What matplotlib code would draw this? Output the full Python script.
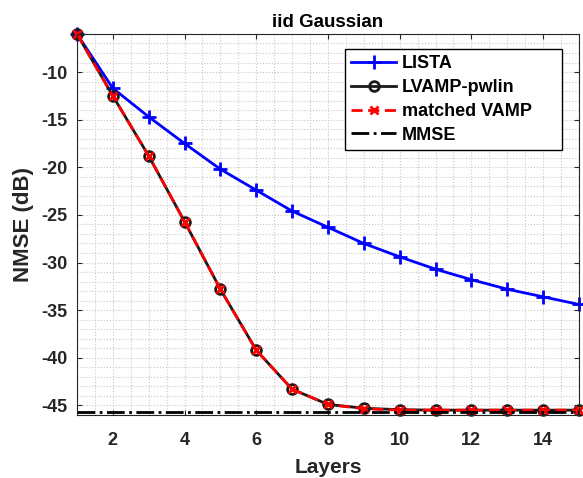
import matplotlib.pyplot as plt
from matplotlib.ticker import MultipleLocator

plt.rcParams['font.family'] = ['Liberation Sans', 'DejaVu Sans']
plt.rcParams['font.weight'] = 'bold'
plt.rcParams['axes.unicode_minus'] = False

layers = list(range(1, 16))
lista = [-6.0, -11.7, -14.7, -17.5, -20.2, -22.4, -24.6, -26.3, -28.0, -29.4, -30.7, -31.8, -32.8, -33.6, -34.4]
lvamp = [-6.0, -12.5, -18.8, -25.7, -32.8, -39.2, -43.3, -44.9, -45.3, -45.45, -45.5, -45.5, -45.5, -45.5, -45.5]
vamp = [-6.0, -12.5, -18.8, -25.7, -32.8, -39.2, -43.3, -44.9, -45.35, -45.5, -45.5, -45.5, -45.5, -45.5, -45.5]
mmse = -45.65

fig = plt.figure(figsize=(5.83, 4.78), dpi=100)
ax = fig.add_axes([0.132, 0.132, 0.861, 0.797])

ax.plot(layers, lista, color='b', lw=2, marker='+', ms=10, mew=2, label='LISTA', clip_on=False)
ax.plot(layers, lvamp, color='#1a1a1a', lw=2, marker='o', ms=7, mew=2, mfc='none', label='LVAMP-pwlin', clip_on=False)
ax.plot(layers, vamp, color='r', lw=2, ls='--', dashes=(4, 2), marker='x', ms=6, mew=2, label='matched VAMP', clip_on=False)
ax.plot([1, 15], [mmse, mmse], color='k', lw=2, ls='-.', label='MMSE')

ax.set_xlim(1, 15)
ax.set_ylim(-46, -6)
ax.xaxis.set_major_locator(MultipleLocator(2))
ax.xaxis.set_minor_locator(MultipleLocator(0.5))
ax.yaxis.set_major_locator(MultipleLocator(5))
ax.yaxis.set_minor_locator(MultipleLocator(1))
ax.grid(which='both', color='#c8c8c8', ls=':', lw=0.8)
ax.set_axisbelow(True)
ax.tick_params(which='both', direction='in', top=True, right=True, labelsize=13, colors='#262626')
ax.tick_params(axis='x', pad=12)
ax.tick_params(axis='y', pad=7)
ax.tick_params(which='minor', length=0)
for s in ax.spines.values():
    s.set_color('#262626')

ax.set_xlabel('Layers', fontsize=15, fontweight='bold', labelpad=7, color='#262626')
ax.set_ylabel('NMSE (dB)', fontsize=16, fontweight='bold', labelpad=5, color='#262626')
ax.set_title('iid Gaussian', fontsize=13.5, fontweight='bold', pad=5)

leg = ax.legend(loc='upper left', bbox_to_anchor=(0.534, 0.701, 0.432, 0.26), mode='expand',
                fontsize=13, fancybox=False, framealpha=1, edgecolor='k',
                handlelength=2.5, handletextpad=0.3,
                borderpad=0.35, labelspacing=0.38, borderaxespad=0)
leg.get_frame().set_linewidth(1)

plt.savefig('out.png', dpi=100)
